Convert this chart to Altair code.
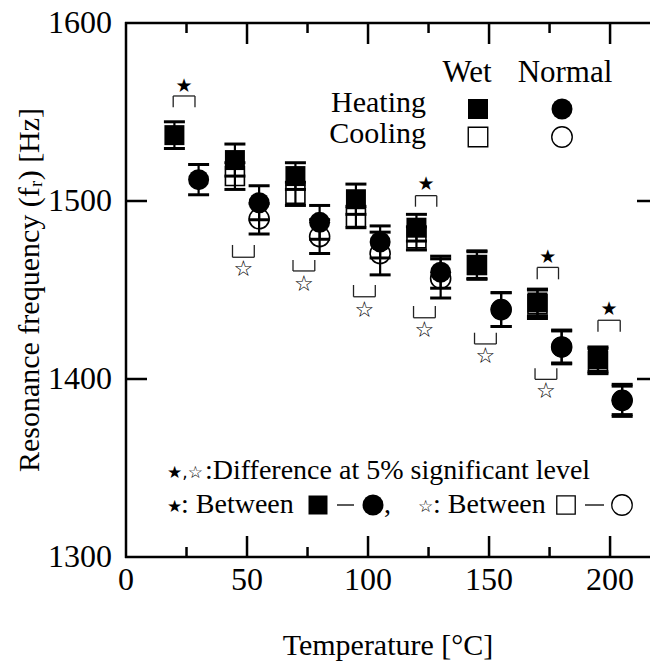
import altair as alt
import pandas as pd

# ---------------- data ----------------
wet_heat_x = [20, 45, 70, 95, 120, 145, 170, 195]
wet_heat_y = [1537, 1523, 1514, 1501, 1485, 1464, 1443, 1411]
wet_heat_e = [7.5, 9, 7.5, 8.5, 7.5, 8, 7.5, 7]

wet_cool_x = [45, 70, 95, 120, 145, 170, 195]
wet_cool_y = [1514, 1504, 1491, 1479, 1464, 1442, 1410]
wet_cool_e = [7.5, 6.5, 6, 6.5, 7.5, 8, 7]

norm_heat_x = [30, 55, 80, 105, 130, 155, 180, 205]
norm_heat_y = [1512, 1499, 1488, 1477, 1460, 1439, 1418, 1388]
norm_heat_e = [8.5, 9.5, 9.5, 9, 9, 9.5, 9, 9]

norm_cool_x = [55, 80, 105, 130, 155, 180, 205]
norm_cool_y = [1490, 1480, 1470.5, 1456.5, 1439, 1418, 1388]
norm_cool_e = [8.5, 9.5, 12, 11, 9.5, 9.5, 8]

# significance brackets: filled star (heating pairs), open star (cooling pairs)
fs_left = [19.5, 119.6, 169.9, 195.0]
fs_right = [28.5, 128.4, 178.7, 204.2]
fs_top = [1559, 1503, 1462.7, 1433]
fs_leg = [1552.6, 1496.8, 1456, 1426.6]
fs_star = [1564.5, 1509.5, 1468.5, 1439.5]

os_left = [44, 69, 94, 118.8, 144, 169]
os_right = [53, 78, 103, 127.8, 153, 178]
os_bot = [1468.4, 1460.7, 1446.2, 1434.4, 1419.7, 1399.8]
os_leg = [1475.3, 1466.9, 1452.8, 1441, 1426, 1406]
os_star = [1461.6, 1453.4, 1439, 1427.5, 1413, 1393]

x_ticks_major = [50, 100, 150, 200]
x_ticks_minor = [25, 75, 125, 175]
y_ticks = [1400, 1500]
x_labels = [0, 50, 100, 150, 200]
y_labels = [1300, 1400, 1500, 1600]

x_title = "Temperature [°C]"
y_title = "Resonance frequency (fᵣ)  [Hz]"
legend_cols = ["Wet", "Normal"]
legend_rows = ["Heating", "Cooling"]
note_stars = "★,☆"
note_1 = ":Difference at 5% significant level"
note_2 = ": Between"

# ---------------- tables ----------------
def series(xs, ys, es, name):
    return pd.DataFrame({"x": xs, "y": ys, "err": es, "s": name})

pts = pd.concat([
    series(wet_heat_x, wet_heat_y, wet_heat_e, "wet_heat"),
    series(wet_cool_x, wet_cool_y, wet_cool_e, "wet_cool"),
    series(norm_heat_x, norm_heat_y, norm_heat_e, "norm_heat"),
    series(norm_cool_x, norm_cool_y, norm_cool_e, "norm_cool"),
], ignore_index=True)

fs = pd.DataFrame({"l": fs_left, "r": fs_right, "a": fs_top, "b": fs_leg, "sy": fs_star})
os_ = pd.DataFrame({"l": os_left, "r": os_right, "a": os_bot, "b": os_leg, "sy": os_star})
one = pd.DataFrame({"_": [0]})

# ---------------- layout: the view covers the whole page, the plot box is set by scale ranges
CW, CH = 650, 665
PL, PT, PR, PB = 126, 23, 650, 557
FONT = "Liberation Serif"
SYMF = "DejaVu Sans"

x_scale = alt.Scale(domain=[0, 216.5], range=[PL, PR], nice=False, zero=False)
y_scale = alt.Scale(domain=[1300, 1600], range=[PB, PT], nice=False, zero=False)


def X(f="x"):
    return alt.X(f"{f}:Q", scale=x_scale, axis=None)


def Y(f="y"):
    return alt.Y(f"{f}:Q", scale=y_scale, axis=None)


base = alt.Chart(pts).transform_calculate(lo="datum.y - datum.err", hi="datum.y + datum.err")

err_line = base.mark_rule(color="black", strokeWidth=2.2).encode(x=X(), y=Y("lo"), y2="hi:Q")
cap_lo = base.mark_tick(orient="horizontal", color="black", size=21, thickness=3, opacity=1).encode(x=X(), y=Y("lo"))
cap_hi = base.mark_tick(orient="horizontal", color="black", size=21, thickness=3, opacity=1).encode(x=X(), y=Y("hi"))

def marker(name, shape, filled, size):
    m = base.transform_filter(alt.datum.s == name)
    if filled:
        mk = m.mark_point(shape=shape, filled=True, size=size, color="black", opacity=1)
    else:
        mk = m.mark_point(shape=shape, filled=False, size=size, stroke="black",
                          strokeWidth=1.6, opacity=1)
    return mk.encode(x=X(), y=Y())

m_wc = marker("wet_cool", "square", False, 360)
m_nc = marker("norm_cool", "circle", False, 400)
m_wh = marker("wet_heat", "square", True, 400)
m_nh = marker("norm_heat", "circle", True, 441)

# brackets
def brackets(df):
    b = alt.Chart(df)
    hz = b.mark_rule(color="#222", strokeWidth=1.3).encode(x=X("l"), x2="r:Q", y=Y("a"))
    lg1 = b.mark_rule(color="#222", strokeWidth=1.3).encode(x=X("l"), y=Y("a"), y2="b:Q")
    lg2 = b.mark_rule(color="#222", strokeWidth=1.3).encode(x=X("r"), y=Y("a"), y2="b:Q")
    return [hz, lg1, lg2]

fstars = alt.Chart(fs).transform_calculate(sx="(datum.l + datum.r) / 2").mark_text(
    text="★", font=SYMF, fontSize=19, color="black", baseline="middle").encode(
    x=X("sx"), y=Y("sy"))
ostars = alt.Chart(os_).transform_calculate(sx="(datum.l + datum.r) / 2").mark_text(
    text="☆", font=SYMF, fontSize=22, color="black", baseline="middle").encode(
    x=X("sx"), y=Y("sy"))

# tick labels through the scales
xlab = alt.Chart(pd.DataFrame({"v": x_labels})).mark_text(
    font=FONT, fontSize=32, color="black", align="center", baseline="alphabetic").encode(
    x=X("v"), y=alt.value(PB + 33), text="v:N")
ylab = alt.Chart(pd.DataFrame({"v": y_labels})).mark_text(
    font=FONT, fontSize=32, color="black", align="right", baseline="middle").encode(
    y=Y("v"), x=alt.value(PL - 14), text="v:N")

# frame lines (left, bottom, top) and inward ticks
def hline(x1, x2, y, w=2.5):
    return alt.Chart(one).mark_rule(color="black", strokeWidth=w).encode(
        x=alt.value(x1), x2=alt.value(x2), y=alt.value(y))

frame = [
    hline(PL - 1, PR, PT),
    hline(PL - 1, PR, PB),
    alt.Chart(one).mark_rule(color="black", strokeWidth=2.5).encode(
        x=alt.value(PL), y=alt.value(PT - 1), y2=alt.value(PB + 1)),
]

tick_layers = []
for vals, ln in ((x_ticks_major, 21), (x_ticks_minor, 10)):
    d = alt.Chart(pd.DataFrame({"t": vals}))
    tick_layers.append(d.mark_rule(color="black", strokeWidth=2.5).encode(
        x=X("t"), y=alt.value(PB), y2=alt.value(PB - ln)))
    tick_layers.append(d.mark_rule(color="black", strokeWidth=2.5).encode(
        x=X("t"), y=alt.value(PT), y2=alt.value(PT + ln)))
dy = alt.Chart(pd.DataFrame({"t": y_ticks}))
tick_layers.append(dy.mark_rule(color="black", strokeWidth=2.5).encode(
    y=Y("t"), x=alt.value(PL), x2=alt.value(PL + 21)))
tick_layers.append(dy.mark_rule(color="black", strokeWidth=2.5).encode(
    y=Y("t"), x=alt.value(PR - 13), x2=alt.value(PR)))

# texts placed in pixels (titles, in-plot legend, notes)
def txt(s, x, y, align="left", size=31, font=FONT, baseline="alphabetic", angle=0):
    return alt.Chart(pd.DataFrame({"t": [s]})).mark_text(
        font=font, fontSize=size, color="black", align=align, baseline=baseline,
        angle=angle).encode(text="t:N", x=alt.value(x), y=alt.value(y))

def sym(shape, filled, x, y, size, sw=1.4):
    if filled:
        mk = alt.Chart(one).mark_point(shape=shape, filled=True, size=size, color="black", opacity=1)
    else:
        mk = alt.Chart(one).mark_point(shape=shape, filled=False, size=size, stroke="black",
                                       strokeWidth=sw, opacity=1)
    return mk.encode(x=alt.value(x), y=alt.value(y))

def dash(x1, x2, y):
    return alt.Chart(one).mark_rule(color="black", strokeWidth=1.3).encode(
        x=alt.value(x1), x2=alt.value(x2), y=alt.value(y))

titles = [
    txt(x_title, (PL + PR) / 2, 655, "center", 30),
    txt(y_title, 30, (PT + PB) / 2, "center", 30, baseline="middle", angle=270),
]

R1, R2 = 479, 513   # baselines of the two note rows
legend = [
    txt(legend_cols[0], 467, 82, "center"),
    txt(legend_cols[1], 565, 82, "center"),
    txt(legend_rows[0], 426, 112, "right", 30),
    txt(legend_rows[1], 426, 143, "right", 30),
    sym("square", True, 478, 109, 400),
    sym("circle", True, 562, 109, 441),
    sym("square", False, 478, 137, 380),
    sym("circle", False, 562, 137, 420),
    # note row 1
    txt(note_stars, 167, R1 - 1, "left", 17, SYMF),
    txt(note_1, 205, R1, "left", 28),
    # note row 2
    txt("★", 167, R2 - 1, "left", 17, SYMF),
    txt(note_2, 181, R2, "left", 28),
    sym("square", True, 318, R2 - 8, 361),
    dash(337, 354, R2 - 8),
    sym("circle", True, 373, R2 - 8, 441),
    txt(",", 384, R2, "left", 28),
    txt("☆", 418, R2 - 1, "left", 17, SYMF),
    txt(note_2, 433, R2, "left", 28),
    sym("square", False, 566, R2 - 8, 340, 1.3),
    dash(585, 604, R2 - 8),
    sym("circle", False, 622, R2 - 8, 420, 1.3),
]

layers = ([err_line, cap_lo, cap_hi, m_wc, m_nc, m_wh, m_nh]
          + brackets(fs) + brackets(os_) + [fstars, ostars] + frame + [xlab, ylab]
          + tick_layers + titles + legend)

chart = alt.layer(*layers).properties(
    width=CW, height=CH,
    autosize=alt.AutoSizeParams(type="none"),
    padding=0,
    background="white",
).configure_view(stroke=None)

chart.save("out.html", embed_options={"renderer": "svg", "actions": False})
